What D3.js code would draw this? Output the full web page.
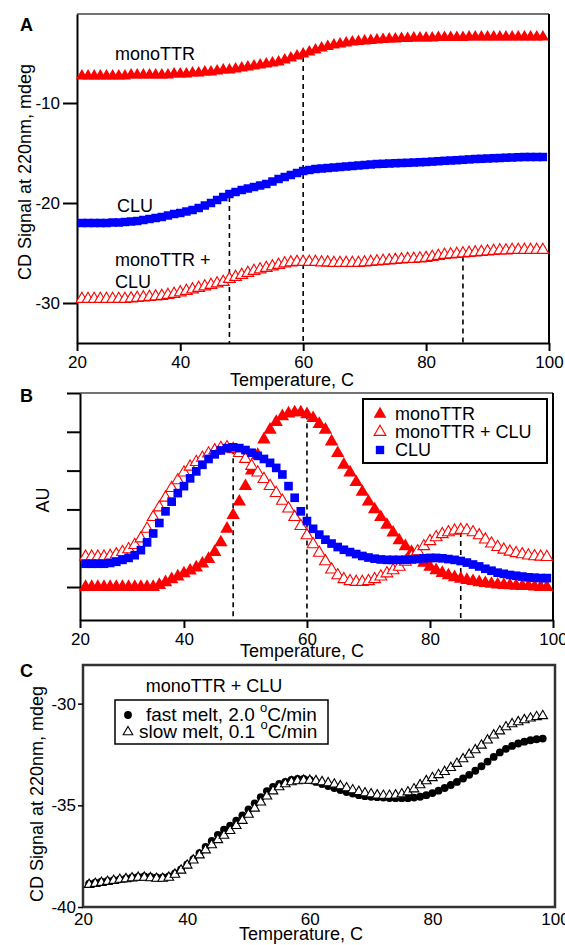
<!DOCTYPE html>
<meta charset="utf-8">
<style>
body { margin: 0; background: #fff; }
text { font-family: "Liberation Sans", Arial, sans-serif; fill: #000; }
.lbl { font-size: 18px; }
.leg { font-size: 19px; }
.panel { font-size: 18px; font-weight: bold; }
.dash { fill: none; stroke: #000; stroke-width: 1.6px; stroke-dasharray: 5,4; }
</style>
<script src="https://cdn.jsdelivr.net/npm/d3@7"></script>
<body>
<script>

// temperatures (C) of the A and B scans, and of the C scans
var tempsAB = [24,25,26,27,28,29,30,31,32,33,
               34,35,36,37,38,39,40,41,42,43,
               44,45,46,47,48,49,50,51,52,53,
               54,55,56,57,58,59,60,61,62,63,
               64,65,66,67,68,69,70,71,72,73,
               74,75,76,77,78,79,80,81,82,83,
               84,85,86,87,88,89,90,91,92,93,
               94,95,96,97,98,99];
var tempsC = [24,25,26,27,28,29,30,31,32,33,
              34,35,36,37,38,39,40,41,42,43,
              44,45,46,47,48,49,50,51,52,53,
              54,55,56,57,58,59,60,61,62,63,
              64,65,66,67,68,69,70,71,72,73,
              74,75,76,77,78,79,80,81,82,83,
              84,85,86,87,88,89,90,91,92,93,
              94,95,96,97,98];

// panel A, CD signal (mdeg)
var monoA = [-7.3,-7.3,-7.3,-7.3,-7.3,-7.3,-7.3,-7.3,-7.2,-7.2,
             -7.2,-7.2,-7.2,-7.2,-7.2,-7.1,-7.1,-7.1,-7.0,-7.0,
             -6.9,-6.9,-6.8,-6.7,-6.7,-6.6,-6.5,-6.4,-6.3,-6.2,
             -6.1,-6.0,-5.9,-5.7,-5.5,-5.3,-5.1,-4.9,-4.7,-4.5,
             -4.35,-4.2,-4.1,-4.0,-3.9,-3.85,-3.8,-3.75,-3.7,-3.65,
             -3.6,-3.6,-3.55,-3.55,-3.5,-3.5,-3.5,-3.5,-3.45,-3.45,
             -3.45,-3.45,-3.45,-3.4,-3.4,-3.4,-3.4,-3.4,-3.4,-3.4,
             -3.4,-3.4,-3.4,-3.4,-3.4,-3.4];
var cluA = [-22.0,-22.0,-22.0,-22.0,-22.0,-21.95,-21.95,-21.9,-21.85,-21.8,
            -21.7,-21.6,-21.5,-21.4,-21.25,-21.1,-21.0,-20.85,-20.7,-20.5,
            -20.25,-20.0,-19.7,-19.4,-19.1,-18.9,-18.7,-18.55,-18.4,-18.25,
            -18.1,-17.85,-17.6,-17.4,-17.2,-17.0,-16.8,-16.7,-16.6,-16.55,
            -16.5,-16.45,-16.4,-16.35,-16.3,-16.25,-16.2,-16.15,-16.1,-16.08,
            -16.05,-16.02,-16.0,-15.98,-15.95,-15.92,-15.9,-15.86,-15.82,-15.78,
            -15.75,-15.72,-15.68,-15.64,-15.6,-15.58,-15.55,-15.52,-15.5,-15.47,
            -15.45,-15.42,-15.4,-15.4,-15.4,-15.4];
var mixA = [-29.6,-29.6,-29.6,-29.6,-29.6,-29.6,-29.6,-29.6,-29.55,-29.5,
            -29.45,-29.4,-29.35,-29.3,-29.2,-29.1,-28.95,-28.8,-28.65,-28.5,
            -28.35,-28.2,-28.05,-27.9,-27.6,-27.4,-27.2,-27.0,-26.8,-26.65,
            -26.5,-26.35,-26.2,-26.05,-25.95,-25.9,-25.9,-25.9,-25.9,-25.95,
            -25.95,-26.0,-26.0,-26.0,-26.0,-26.0,-25.95,-25.9,-25.85,-25.8,
            -25.75,-25.7,-25.65,-25.6,-25.6,-25.55,-25.5,-25.4,-25.3,-25.2,
            -25.15,-25.1,-25.05,-25.0,-24.95,-24.9,-24.85,-24.8,-24.75,-24.75,
            -24.7,-24.7,-24.7,-24.7,-24.7,-24.7];

// panel B, first derivative (AU)
var monoB = [0,0,0,0,0,0,0,0,0,0,
             0,0,0.05,0.12,0.2,0.27,0.35,0.42,0.5,0.6,
             0.72,0.9,1.15,1.5,1.85,2.2,2.6,3.0,3.4,3.8,
             4.05,4.25,4.4,4.47,4.5,4.5,4.45,4.35,4.2,4.05,
             3.75,3.45,3.15,2.95,2.7,2.45,2.2,2.0,1.8,1.6,
             1.4,1.2,1.05,0.9,0.75,0.62,0.52,0.43,0.36,0.3,
             0.25,0.21,0.18,0.15,0.12,0.1,0.08,0.06,0.05,0.04,
             0.03,0.02,0.02,0.01,0,0];
var mixB = [0.78,0.78,0.78,0.78,0.8,0.84,0.9,0.97,1.08,1.25,
            1.5,1.8,2.05,2.3,2.55,2.75,2.95,3.1,3.22,3.33,
            3.44,3.52,3.58,3.6,3.55,3.45,3.3,3.12,2.95,2.78,
            2.6,2.42,2.22,2.02,1.8,1.57,1.33,1.1,0.88,0.66,
            0.45,0.3,0.2,0.15,0.13,0.13,0.15,0.2,0.27,0.35,
            0.43,0.52,0.65,0.78,0.92,1.05,1.18,1.28,1.36,1.41,
            1.45,1.47,1.46,1.41,1.33,1.22,1.12,1.03,0.96,0.91,
            0.87,0.84,0.81,0.79,0.78,0.77];
var cluB = [0.6,0.6,0.6,0.6,0.62,0.65,0.7,0.75,0.82,0.95,
            1.15,1.38,1.65,1.95,2.2,2.42,2.6,2.8,2.98,3.15,
            3.3,3.42,3.52,3.58,3.6,3.58,3.53,3.46,3.38,3.3,
            3.2,3.07,2.9,2.6,2.3,1.95,1.7,1.5,1.35,1.22,
            1.12,1.03,0.96,0.9,0.85,0.8,0.76,0.73,0.71,0.7,
            0.7,0.7,0.7,0.71,0.72,0.74,0.75,0.75,0.74,0.72,
            0.7,0.67,0.63,0.58,0.53,0.47,0.42,0.37,0.34,0.31,
            0.29,0.27,0.25,0.24,0.23,0.23];

// panel C, monoTTR + CLU at two heating rates (mdeg)
var fastC = [-38.85,-38.8,-38.75,-38.72,-38.68,-38.64,-38.6,-38.55,-38.52,-38.5,
             -38.52,-38.55,-38.55,-38.5,-38.35,-38.15,-37.9,-37.65,-37.35,-37.05,
             -36.75,-36.45,-36.2,-36.0,-35.75,-35.5,-35.2,-34.9,-34.6,-34.3,
             -34.1,-33.95,-33.85,-33.75,-33.7,-33.7,-33.75,-33.85,-33.95,-34.05,
             -34.15,-34.25,-34.35,-34.42,-34.5,-34.55,-34.58,-34.6,-34.62,-34.64,
             -34.65,-34.65,-34.65,-34.62,-34.58,-34.5,-34.4,-34.28,-34.15,-34.0,
             -33.85,-33.68,-33.5,-33.3,-33.08,-32.85,-32.62,-32.4,-32.22,-32.08,
             -31.96,-31.87,-31.8,-31.75,-31.72];
var slowC = [-38.9,-38.85,-38.8,-38.75,-38.7,-38.65,-38.62,-38.58,-38.55,-38.55,
             -38.57,-38.6,-38.6,-38.55,-38.4,-38.2,-37.95,-37.7,-37.45,-37.2,
             -36.95,-36.7,-36.48,-36.25,-36.0,-35.75,-35.45,-35.15,-34.85,-34.55,
             -34.3,-34.1,-33.95,-33.85,-33.8,-33.78,-33.78,-33.8,-33.85,-33.9,
             -33.97,-34.05,-34.15,-34.25,-34.33,-34.4,-34.45,-34.5,-34.52,-34.52,
             -34.5,-34.45,-34.35,-34.2,-34.0,-33.8,-33.65,-33.5,-33.35,-33.15,
             -32.95,-32.72,-32.5,-32.28,-32.05,-31.8,-31.55,-31.35,-31.15,-31.0,
             -30.9,-30.8,-30.72,-30.65,-30.6];

// melting temperatures marked by dashed lines
var tmA = [48, 60, 86];
var tmB = [48, 60, 85];

var xTickLabels = ["20", "40", "60", "80", "100"];
var yTicksA = [-30, -20, -10];
var yTicksB = [0, 1, 2, 3, 4, 5];
var yTicksC = [-40, -35, -30];

var red = "#ff0000", blue = "#0000ff";

var svg = d3.select("body").append("svg")
    .attr("width", 565)
    .attr("height", 945);

function scatter(g, x, y, tt, vals, type, size, fill, stroke) {
  g.append("g").selectAll("path")
    .data(vals)
    .enter().append("path")
      .attr("d", d3.symbol().type(type).size(size))
      .attr("transform", function(d, i) { return "translate(" + x(tt[i]) + "," + y(d) + ")"; })
      .attr("fill", fill)
      .attr("stroke", stroke || "none")
      .attr("stroke-width", 1.1);
}

function styleAxis(g, w) {
  g.attr("font-size", 17).attr("font-family", '"Liberation Sans", Arial, sans-serif');
  g.select(".domain").attr("stroke-width", w);
  g.selectAll(".tick line").attr("stroke-width", w);
}

function xTicks(x) { return [x.domain()[0], 40, 60, 80, 100]; }

// ---------- A ----------
var xA = d3.scaleLinear().domain([23.2, 100]).range([77, 549]);
var yA = d3.scaleLinear().domain([-34, -1.1]).range([343, 14]);
var gA = svg.append("g");

gA.append("line").attr("x1", 77).attr("x2", 549).attr("y1", 14).attr("y2", 14)
  .attr("stroke", "#444").attr("stroke-width", 1.5);
gA.append("line").attr("x1", 549).attr("x2", 549).attr("y1", 14).attr("y2", 343)
  .attr("stroke", "#000").attr("stroke-width", 2);

gA.append("g").attr("transform", "translate(0,343)")
  .call(d3.axisBottom(xA).tickValues(xTicks(xA)).tickFormat(function(d, i) { return xTickLabels[i]; })
        .tickSize(8).tickSizeOuter(0).tickPadding(5))
  .call(styleAxis, 2);
gA.append("g").attr("transform", "translate(77,0)")
  .call(d3.axisLeft(yA).tickValues(yTicksA).tickFormat(function(d) { return String(d); })
        .tickSize(14).tickSizeOuter(0).tickPadding(3))
  .call(styleAxis, 2);

tmA.forEach(function(t, k) {
  var top = [cluA, monoA, mixA][k][tempsAB.indexOf(t)];
  gA.append("line").attr("class", "dash")
    .attr("x1", xA(t)).attr("x2", xA(t)).attr("y1", yA(top) + 3).attr("y2", yA.range()[0]);
});

scatter(gA, xA, yA, tempsAB, monoA, d3.symbolTriangle, 64, red);
scatter(gA, xA, yA, tempsAB, cluA, d3.symbolSquare, 72, blue);
scatter(gA, xA, yA, tempsAB, mixA, d3.symbolTriangle, 60, "#fff", red);

gA.append("text").attr("class", "lbl").attr("x", 115).attr("y", 60).text("monoTTR");
gA.append("text").attr("class", "lbl").attr("x", 117).attr("y", 212).text("CLU");
gA.append("text").attr("class", "lbl").attr("x", 115).attr("y", 266).text("monoTTR +");
gA.append("text").attr("class", "lbl").attr("x", 115).attr("y", 288).text("CLU");
gA.append("text").attr("class", "lbl").attr("x", 292).attr("y", 386).attr("text-anchor", "middle").text("Temperature, C");
gA.append("text").attr("class", "lbl").attr("text-anchor", "middle")
  .attr("transform", "translate(31,172) rotate(-90)").text("CD Signal  at 220nm, mdeg");
gA.append("text").attr("class", "panel").attr("x", 20).attr("y", 31).text("A");

// ---------- B ----------
var xB = d3.scaleLinear().domain([23.1, 100]).range([80, 553]);
var yB = d3.scaleLinear().domain([-0.85, 5]).range([620, 393]);
var gB = svg.append("g");

gB.append("line").attr("x1", 80).attr("x2", 553).attr("y1", 393).attr("y2", 393)
  .attr("stroke", "#444").attr("stroke-width", 1.5);
gB.append("line").attr("x1", 553).attr("x2", 553).attr("y1", 393).attr("y2", 620)
  .attr("stroke", "#000").attr("stroke-width", 2);

gB.append("g").attr("transform", "translate(0,620)")
  .call(d3.axisBottom(xB).tickValues(xTicks(xB)).tickFormat(function(d, i) { return xTickLabels[i]; })
        .tickSize(8).tickSizeOuter(0).tickPadding(5))
  .call(styleAxis, 2);
gB.append("g").attr("transform", "translate(80,0)")
  .call(d3.axisLeft(yB).tickValues(yTicksB).tickFormat("").tickSize(13).tickSizeOuter(0))
  .call(styleAxis, 2);

var tops = [3.6, d3.max(monoB), mixB[tempsAB.indexOf(85)]];
tmB.forEach(function(t, k) {
  gB.append("line").attr("class", "dash")
    .attr("x1", xB(t)).attr("x2", xB(t)).attr("y1", yB(tops[k]) + 2).attr("y2", yB.range()[0]);
});

scatter(gB, xB, yB, tempsAB, monoB, d3.symbolTriangle, 78, red);
scatter(gB, xB, yB, tempsAB, mixB, d3.symbolTriangle, 60, "#fff", red);
scatter(gB, xB, yB, tempsAB, cluB, d3.symbolSquare, 75, blue);

var legB = gB.append("g");
legB.append("rect").attr("x", 363).attr("y", 399).attr("width", 184).attr("height", 64)
  .attr("fill", "#fff").attr("stroke", "#000").attr("stroke-width", 2);
var legItemsB = [
  {name: "monoTTR", type: d3.symbolTriangle, size: 70, fill: red, stroke: "none"},
  {name: "monoTTR + CLU", type: d3.symbolTriangle, size: 60, fill: "#fff", stroke: red},
  {name: "CLU", type: d3.symbolSquare, size: 70, fill: blue, stroke: "none"}
];
legItemsB.forEach(function(d, i) {
  var cy = 414 + i * 18;
  legB.append("path").attr("d", d3.symbol().type(d.type).size(d.size))
    .attr("transform", "translate(380," + cy + ")")
    .attr("fill", d.fill).attr("stroke", d.stroke).attr("stroke-width", 1.1);
  legB.append("text").attr("class", "lbl").attr("x", 395).attr("y", cy + 6).text(d.name);
});

gB.append("text").attr("class", "lbl").attr("x", 302).attr("y", 657).attr("text-anchor", "middle").text("Temperature, C");
gB.append("text").attr("class", "lbl").attr("text-anchor", "middle")
  .attr("transform", "translate(49,500) rotate(-90)").text("AU");
gB.append("text").attr("class", "panel").attr("x", 20).attr("y", 402).text("B");

// ---------- C ----------
var xC = d3.scaleLinear().domain([23, 100]).range([83, 555]);
var yC = d3.scaleLinear().domain([-40, -28.1]).range([907, 665]);
var gC = svg.append("g");

gC.append("rect").attr("x", 83).attr("y", 665).attr("width", 472).attr("height", 242)
  .attr("fill", "none").attr("stroke", "#333").attr("stroke-width", 2.5);

gC.append("g").attr("transform", "translate(0,907)")
  .call(d3.axisBottom(xC).tickValues(xTicks(xC)).tickFormat(function(d, i) { return xTickLabels[i]; })
        .tickSize(0).tickPadding(6))
  .call(styleAxis, 0)
  .select(".domain").remove();
gC.append("g").attr("transform", "translate(83,0)")
  .call(d3.axisLeft(yC).tickValues(yTicksC).tickFormat(function(d) { return String(d); })
        .tickSize(5).tickPadding(2))
  .call(styleAxis, 1.5)
  .select(".domain").remove();

scatter(gC, xC, yC, tempsC, fastC, d3.symbolCircle, 48, "#000");
scatter(gC, xC, yC, tempsC, slowC, d3.symbolTriangle, 40, "#fff", "#000");

gC.append("text").attr("class", "lbl").attr("x", 214).attr("y", 692).attr("text-anchor", "middle").text("monoTTR + CLU");

var legC = gC.append("g");
legC.append("rect").attr("x", 115).attr("y", 700).attr("width", 213).attr("height", 44)
  .attr("fill", "#fff").attr("stroke", "#000").attr("stroke-width", 1.5);
var legItemsC = [
  {name: "fast melt, 2.0 ", type: d3.symbolCircle, size: 48, fill: "#000", stroke: "none", tx: 146},
  {name: "slow melt, 0.1 ", type: d3.symbolTriangle, size: 40, fill: "#fff", stroke: "#000", tx: 139}
];
legItemsC.forEach(function(d, i) {
  var cy = 715 + i * 17;
  legC.append("path").attr("d", d3.symbol().type(d.type).size(d.size))
    .attr("transform", "translate(128," + cy + ")")
    .attr("fill", d.fill).attr("stroke", d.stroke).attr("stroke-width", 1.1);
  var t = legC.append("text").attr("class", "leg").attr("x", d.tx).attr("y", cy + 6);
  t.append("tspan").text(d.name);
  t.append("tspan").attr("font-size", 13).attr("dy", -9).text("o");
  t.append("tspan").attr("dy", 9).text("C/min");
});

gC.append("text").attr("class", "lbl").attr("x", 301).attr("y", 940).attr("text-anchor", "middle").text("Temperature, C");
gC.append("text").attr("class", "lbl").attr("text-anchor", "middle")
  .attr("transform", "translate(43,794) rotate(-90)").text("CD Signal  at 220nm, mdeg");
gC.append("text").attr("class", "panel").attr("x", 20).attr("y", 677).text("C");

</script>
</body>
